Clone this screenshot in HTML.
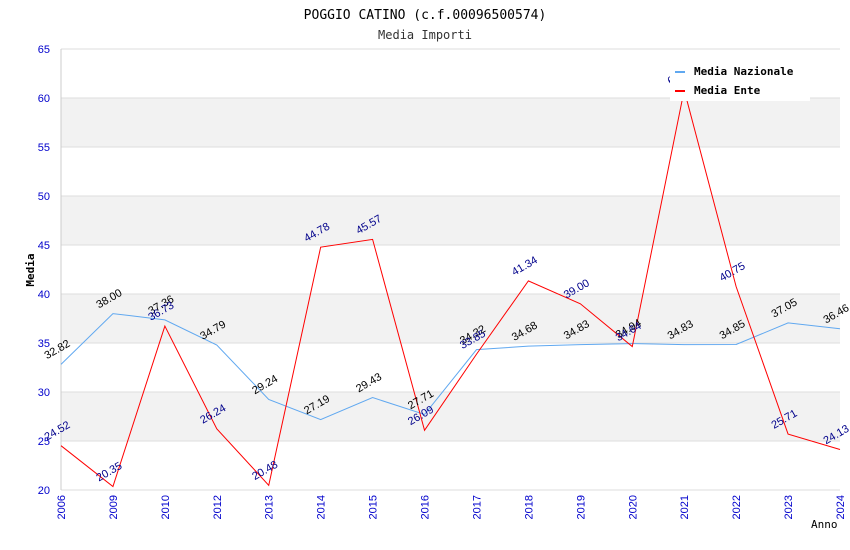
<!DOCTYPE html>
<html><head><meta charset="utf-8"><style>
body{margin:0;background:#fff;}
svg{display:block;}
</style></head><body>
<svg id="chart" width="850" height="550" xmlns="http://www.w3.org/2000/svg">
<text x="425" y="19" text-anchor="middle" font-family="DejaVu Sans Mono, Liberation Mono, monospace" font-size="13" fill="#000">POGGIO CATINO (c.f.00096500574)</text>
<text x="425" y="39" text-anchor="middle" font-family="DejaVu Sans Mono, Liberation Mono, monospace" font-size="12" fill="#333">Media Importi</text>
<g id="bands"></g><g id="grid"></g><g id="axes"></g><g id="lines"></g><g id="labels"></g>
<text x="34" y="270" transform="rotate(-90 34 270)" text-anchor="middle" font-family="DejaVu Sans Mono, monospace" font-size="11" font-weight="bold">Media</text>
<text x="811" y="528" font-family="DejaVu Sans Mono, monospace" font-size="11">Anno</text>
<g>
<rect x="670" y="59" width="140" height="42" fill="#fff"/>
<rect x="675" y="71" width="10" height="2" fill="#60a8f0"/>
<text x="694" y="75" font-family="DejaVu Sans Mono, monospace" font-size="11" font-weight="bold">Media Nazionale</text>
<rect x="675" y="90" width="10" height="2" fill="#f00"/>
<text x="694" y="94" font-family="DejaVu Sans Mono, monospace" font-size="11" font-weight="bold">Media Ente</text>
</g>
</svg>
<script>
const categories=["2006","2009","2010","2012","2013","2014","2015","2016","2017","2018","2019","2020","2021","2022","2023","2024"];
const nazionale=[32.82,38.00,37.36,34.79,29.24,27.19,29.43,27.71,34.32,34.68,34.83,34.94,34.83,34.85,37.05,36.46];
const ente=[24.52,20.35,36.73,26.24,20.48,44.78,45.57,26.09,33.85,41.34,39.00,34.64,60.81,40.75,25.71,24.13];
const yTicks=[20,25,30,35,40,45,50,55,60,65];
const NS="http://www.w3.org/2000/svg";
const X0=61,X1=840,Y0=490,Y1=49,YMIN=20,YMAX=65;
function xs(i){return X0+(X1-X0)*i/(categories.length-1);}
function ys(v){return Y0-(v-YMIN)/(YMAX-YMIN)*(Y0-Y1);}
function mk(tag,attrs,parent){const e=document.createElementNS(NS,tag);for(const k in attrs)e.setAttribute(k,attrs[k]);parent.appendChild(e);return e;}
const bands=document.getElementById('bands'),grid=document.getElementById('grid'),axes=document.getElementById('axes'),lines=document.getElementById('lines'),labels=document.getElementById('labels');
for(let i=0;i<yTicks.length-1;i++){
  if(i%2===1){const r=mk('rect',{x:X0,y:ys(yTicks[i+1]),width:X1-X0,height:ys(yTicks[i])-ys(yTicks[i+1]),fill:'#f2f2f2'},bands);
  
  }
}
yTicks.forEach(t=>{
  const l=mk('line',{x1:X0,x2:X1,y1:ys(t),y2:ys(t),stroke:'#ddd','stroke-width':1},grid);
  
  
  const tx=mk('text',{x:X0-11,y:ys(t)+4,'text-anchor':'end','font-family':'Liberation Sans, sans-serif','font-size':11,fill:'#00c'},axes);
  tx.textContent=t;
  
  
});
const ax=mk('line',{x1:X0,x2:X0,y1:Y1,y2:Y0,stroke:'#ccc'},axes);


categories.forEach((c,i)=>{
  const x=xs(i);
  const tx=mk('text',{x:x+4,y:Y0+5,'text-anchor':'end','font-family':'Liberation Sans, sans-serif','font-size':11,fill:'#00c',transform:`rotate(-90 ${x+4} ${Y0+5})`},axes);
  tx.textContent=c;
  
  
});
function series(vals,color,lc,name){
  const p=mk('polyline',{points:vals.map((v,i)=>xs(i)+','+ys(v)).join(' '),fill:'none',stroke:color,'stroke-width':1},lines);
  
  
  vals.forEach((v,i)=>{
    const x=xs(i)-14,y=ys(v)-5;
    const t=mk('text',{x:x,y:y,'font-family':'Liberation Sans, sans-serif','font-size':11,fill:lc,transform:`rotate(-30 ${x} ${y})`},labels);
    t.textContent=v.toFixed(2);
    
    
  });
}
series(nazionale,'#60a8f0','#000','nazionale');
series(ente,'#f00','#00008b','ente');
</script>
</body></html>
